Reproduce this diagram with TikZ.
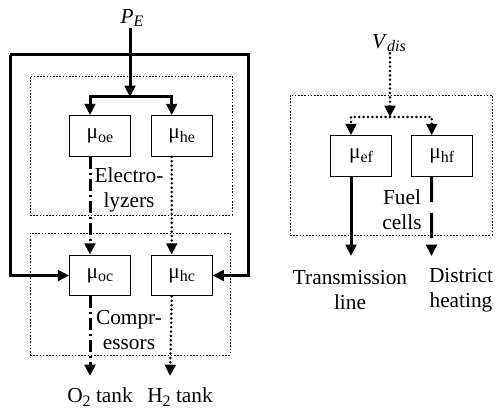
\documentclass[tikz,border=0pt]{standalone}
\usepackage{fontspec}
\setmainfont{Liberation Serif}
\usetikzlibrary{arrows.meta, positioning}
\newcommand{\lo}[1]{\raisebox{-0.35ex}{\fontsize{12}{12}\selectfont #1}}

\begin{document}
\begin{tikzpicture}[
  x=0.75pt, y=-0.75pt,
  every node/.style={font=\fontsize{16}{18.75}\selectfont},
  unit/.style={rectangle, draw, line width=0.8pt, fill=white, minimum width=45.5pt, minimum height=30.5pt, inner sep=0pt},
  group/.style={rectangle, draw, line width=0.6pt, dash pattern=on 1.2pt off 1.2pt, inner sep=0pt},
  txt/.style={align=center, inner sep=1pt},
  tip/.style={-{Triangle[length=8.5pt, width=8pt]}},
  power/.style={tip, line width=2.25pt},
  oxy/.style={power, dash pattern=on 9pt off 3pt on 1.5pt off 3pt},
  hydro/.style={tip, line width=2.1pt, line cap=round, dash pattern=on 0pt off 3.3pt},
  heat/.style={power, dash pattern=on 19pt off 8pt}
]
\useasboundingbox (0,0) rectangle (497,413);

% Groups
\node[group, minimum width=151.5pt, minimum height=104.25pt] (elz) at (131,145.5) {};
\node[group, minimum width=150pt, minimum height=91.5pt] (cmp) at (130,294) {};
\node[group, minimum width=151.5pt, minimum height=105pt] (fc) at (391,165) {};

% Units
\node[unit] (moe) at (100,136) {μ\lo{oe}};
\node[unit, right=15pt of moe] (mhe) {μ\lo{he}};
\node[unit] (moc) at (100,275.5) {μ\lo{oc}};
\node[unit, right=15pt of moc] (mhc) {μ\lo{hc}};
\node[unit] (mef) at (361,156) {μ\lo{ef}};
\node[unit, right=14.25pt of mef] (mhf) {μ\lo{hf}};

% Labels
\node[txt] (PE) at (132,18) {\textit{P}\lo{\textit{E}}};
\node[txt] (Vdis) at (389,43) {\textit{V}\lo{\textit{dis}}};
\node[txt] (elztxt) at (129,190) {Electro-\\lyzers};
\node[txt] (cmptxt) at (129,330) {Compr-\\essors};
\node[txt] (fctxt) at (402,210) {Fuel\\cells};
\node[txt] (o2) at (100,397) {O\lo{2} tank};
\node[txt] (h2) at (180,397) {H\lo{2} tank};
\node[txt] (trans) at (350,290) {Transmission\\line};
\node[txt] (dist) at (461,290) {District\\heating};

% Junctions and ends
\coordinate (jL) at (130,97);
\coordinate (fL) at (10,55);
\coordinate (fR) at (248,55);
\coordinate (jR) at (390,117);
\coordinate (o2end) at (90,376);
\coordinate (h2end) at (170,376);
\coordinate (trend) at (351,256);
\coordinate (dhend) at (431.5,256);

% Power
\draw[power] (PE.south -| jL) -- (jL);
\draw[power] (jL) -| ([xshift=-7.5pt]moe.north);
\draw[power] (jL) -| ([xshift=-7.5pt]mhe.north);
\draw[power] (fL) -- (fR) |- (mhc.east);
\draw[power] (fL) |- (moc.west);

% Oxygen and hydrogen
\draw[oxy] ([xshift=-7.5pt]moe.south) -- ([xshift=-7.5pt]moc.north);
\draw[oxy] ([xshift=-7.5pt]moc.south) -- (o2end);
\draw[hydro] ([xshift=-7.5pt]mhe.south) -- ([xshift=-7.5pt]mhc.north);
\draw[hydro] ([xshift=-7.5pt]mhc.south) -- (h2end);

% Fuel cells
\draw[hydro] (Vdis.south -| jR) -- (jR);
\draw[hydro] (jR) -| ([xshift=-7.5pt]mef.north);
\draw[hydro] (jR) -| ([xshift=-7.5pt]mhf.north);
\draw[power] ([xshift=-7.5pt]mef.south) -- (trend);
\draw[heat] ([xshift=-7.5pt]mhf.south) -- (dhend);

\end{tikzpicture}
\end{document}
